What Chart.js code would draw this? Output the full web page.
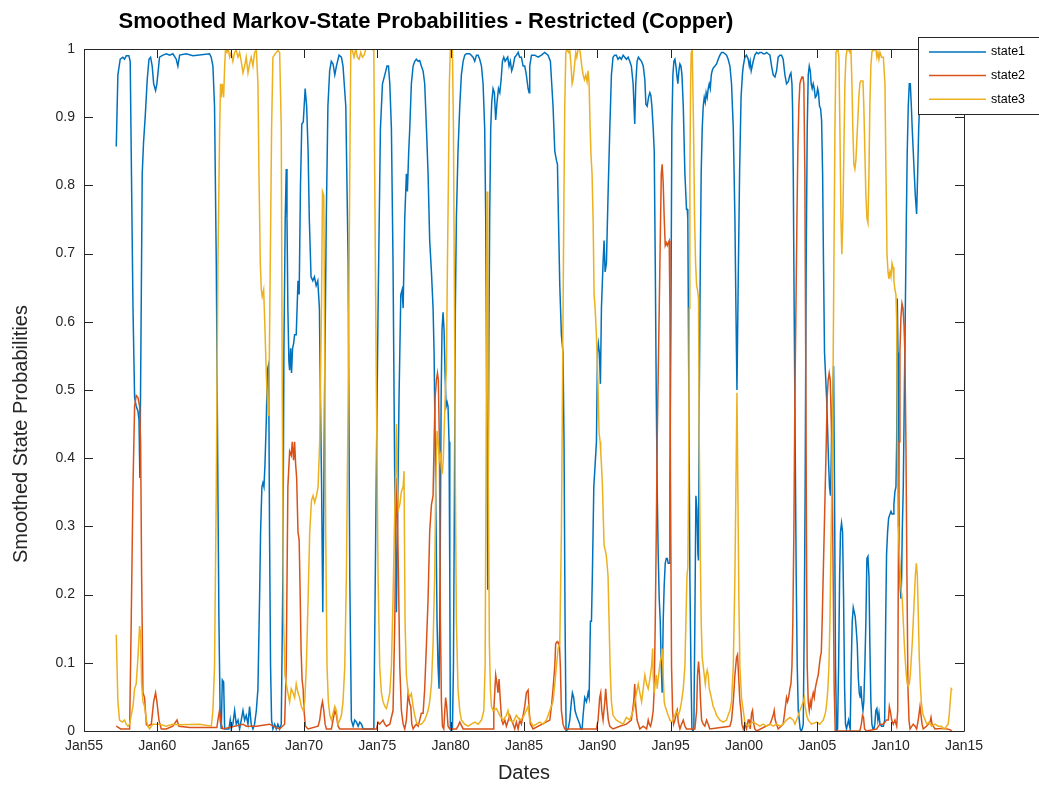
<!DOCTYPE html>
<html>
<head>
<meta charset="utf-8">
<script src="https://cdn.jsdelivr.net/npm/chart.js@4.4.1/dist/chart.umd.min.js"></script>
<style>
  html, body { margin: 0; padding: 0; background: #ffffff; }
</style>
</head>
<body>
<canvas id="chart-markov-copper" width="1039" height="787"></canvas>
<script>
// axis ticks
var dateTicks = [1955, 1960, 1965, 1970, 1975, 1980, 1985, 1990, 1995, 2000, 2005, 2010, 2015];
var dateTickLabels = ["Jan55", "Jan60", "Jan65", "Jan70", "Jan75", "Jan80", "Jan85", "Jan90", "Jan95", "Jan00", "Jan05", "Jan10", "Jan15"];
var probTicks = [0, 0.1, 0.2, 0.3, 0.4, 0.5, 0.6, 0.7, 0.8, 0.9, 1];
var probTickLabels = ["0", "0.1", "0.2", "0.3", "0.4", "0.5", "0.6", "0.7", "0.8", "0.9", "1"];
var seriesNames = ["state1", "state2", "state3"];

// state1 (years as decimals)
var state1Years = [
  1957.2, 1957.31, 1957.47, 1957.65, 1957.76, 1957.88, 1958.06, 1958.15, 1958.34, 1958.45, 1958.56, 1958.68, 1958.75, 1958.81, 1958.9, 1958.97,
  1959.06, 1959.18, 1959.31, 1959.43, 1959.54, 1959.65, 1959.75, 1959.88, 1959.97, 1960.15, 1960.38, 1960.61, 1960.84, 1961.06, 1961.29, 1961.4,
  1961.52, 1961.97, 1962.43, 1963.56, 1963.67, 1963.79, 1963.9, 1964.02, 1964.13, 1964.2, 1964.29, 1964.36, 1964.43, 1964.52, 1964.59, 1964.88,
  1964.97, 1965.04, 1965.15, 1965.27, 1965.38, 1965.5, 1965.61, 1965.84, 1965.95, 1966.06, 1966.18, 1966.29, 1966.4, 1966.52, 1966.63, 1966.75,
  1966.86, 1966.97, 1967.04, 1967.13, 1967.2, 1967.27, 1967.34, 1967.43, 1967.5, 1967.56, 1967.61, 1967.65, 1967.72, 1967.79, 1967.88, 1968.0,
  1968.11, 1968.22, 1968.34, 1968.45, 1968.56, 1968.63, 1968.72, 1968.79, 1968.84, 1968.9, 1968.97, 1969.02, 1969.09, 1969.15, 1969.22, 1969.29,
  1969.36, 1969.47, 1969.59, 1969.67, 1969.76, 1969.85, 1969.95, 1970.08, 1970.18, 1970.28, 1970.36, 1970.48, 1970.6, 1970.71, 1970.83, 1970.94,
  1971.05, 1971.12, 1971.2, 1971.28, 1971.33, 1971.4, 1971.52, 1971.63, 1971.75, 1971.86, 1971.98, 1972.1, 1972.21, 1972.39, 1972.55, 1972.66,
  1972.85, 1973.01, 1973.12, 1973.23, 1973.35, 1973.46, 1973.58, 1973.69, 1973.8, 1973.92, 1974.03, 1974.76, 1974.89, 1975.05, 1975.21, 1975.35,
  1975.51, 1975.66, 1975.76, 1975.85, 1975.96, 1976.07, 1976.19, 1976.3, 1976.37, 1976.48, 1976.6, 1976.69, 1976.76, 1976.87, 1976.98, 1977.05,
  1977.14, 1977.21, 1977.32, 1977.44, 1977.55, 1977.66, 1977.78, 1977.89, 1978.0, 1978.12, 1978.23, 1978.35, 1978.46, 1978.57, 1978.69, 1978.8,
  1978.87, 1978.94, 1979.01, 1979.07, 1979.14, 1979.21, 1979.28, 1979.35, 1979.41, 1979.48, 1979.55, 1979.62, 1979.69, 1979.76, 1979.82, 1979.89,
  1979.94, 1979.98, 1980.05, 1980.12, 1980.19, 1980.26, 1980.32, 1980.39, 1980.5, 1980.62, 1980.73, 1980.85, 1980.96, 1981.07, 1981.3, 1981.53,
  1981.64, 1981.76, 1981.87, 1981.98, 1982.1, 1982.21, 1982.32, 1982.39, 1982.46, 1982.53, 1982.6, 1982.66, 1982.73, 1982.8, 1982.89, 1982.98,
  1983.07, 1983.16, 1983.26, 1983.35, 1983.44, 1983.53, 1983.62, 1983.71, 1983.8, 1983.89, 1983.98, 1984.07, 1984.16, 1984.26, 1984.37, 1984.49,
  1984.6, 1984.71, 1984.82, 1984.94, 1985.05, 1985.16, 1985.28, 1985.35, 1985.39, 1985.51, 1985.73, 1985.96, 1986.19, 1986.41, 1986.64, 1986.8,
  1986.89, 1986.98, 1987.1, 1987.21, 1987.28, 1987.35, 1987.44, 1987.55, 1987.66, 1987.73, 1987.8, 1987.87, 1988.01, 1988.12, 1988.23, 1988.3,
  1988.39, 1988.48, 1988.57, 1988.69, 1988.8, 1988.87, 1988.96, 1989.03, 1989.14, 1989.26, 1989.37, 1989.44, 1989.53, 1989.6, 1989.66, 1989.76,
  1989.85, 1989.94, 1990.01, 1990.07, 1990.14, 1990.21, 1990.28, 1990.39, 1990.46, 1990.53, 1990.62, 1990.73, 1990.85, 1990.96, 1991.07, 1991.18,
  1991.3, 1991.41, 1991.53, 1991.64, 1991.76, 1991.87, 1991.98, 1992.1, 1992.21, 1992.32, 1992.44, 1992.55, 1992.62, 1992.71, 1992.8, 1992.9,
  1993.01, 1993.13, 1993.24, 1993.31, 1993.4, 1993.49, 1993.58, 1993.65, 1993.72, 1993.81, 1993.88, 1993.95, 1994.02, 1994.08, 1994.15, 1994.22,
  1994.29, 1994.36, 1994.42, 1994.49, 1994.56, 1994.63, 1994.7, 1994.77, 1994.83, 1994.9, 1994.95, 1995.02, 1995.08, 1995.15, 1995.22, 1995.29,
  1995.36, 1995.42, 1995.49, 1995.56, 1995.63, 1995.7, 1995.77, 1995.86, 1995.97, 1996.08, 1996.13, 1996.17, 1996.24, 1996.31, 1996.38, 1996.45,
  1996.52, 1996.58, 1996.65, 1996.72, 1996.79, 1996.86, 1996.9, 1996.95, 1997.02, 1997.08, 1997.15, 1997.22, 1997.29, 1997.36, 1997.42, 1997.49,
  1997.56, 1997.63, 1997.7, 1997.77, 1997.83, 1997.9, 1998.02, 1998.13, 1998.24, 1998.36, 1998.47, 1998.58, 1998.7, 1998.81, 1998.92, 1999.04,
  1999.15, 1999.27, 1999.38, 1999.45, 1999.52, 1999.6, 1999.7, 1999.8, 1999.9, 1999.95, 2000.06, 2000.17, 2000.29, 2000.36, 2000.42, 2000.49,
  2000.56, 2000.63, 2000.74, 2000.86, 2000.97, 2001.08, 2001.2, 2001.31, 2001.43, 2001.54, 2001.65, 2001.77, 2001.88, 2001.99, 2002.11, 2002.22,
  2002.33, 2002.45, 2002.56, 2002.67, 2002.79, 2002.9, 2003.02, 2003.13, 2003.2, 2003.27, 2003.31, 2003.36, 2003.42, 2003.49, 2003.56, 2003.63,
  2003.7, 2003.77, 2003.83, 2003.9, 2003.97, 2004.04, 2004.11, 2004.17, 2004.24, 2004.31, 2004.38, 2004.45, 2004.52, 2004.58, 2004.65, 2004.72,
  2004.79, 2004.86, 2004.95, 2005.02, 2005.08, 2005.15, 2005.22, 2005.29, 2005.36, 2005.42, 2005.49, 2005.56, 2005.63, 2005.7, 2005.77, 2005.83,
  2005.9, 2005.97, 2006.04, 2006.11, 2006.17, 2006.24, 2006.31, 2006.38, 2006.45, 2006.52, 2006.58, 2006.65, 2006.72, 2006.79, 2006.86, 2006.92,
  2006.99, 2007.06, 2007.13, 2007.17, 2007.24, 2007.31, 2007.38, 2007.45, 2007.52, 2007.58, 2007.65, 2007.72, 2007.79, 2007.86, 2007.93, 2007.97,
  2008.04, 2008.11, 2008.17, 2008.24, 2008.31, 2008.38, 2008.45, 2008.52, 2008.58, 2008.65, 2008.72, 2008.79, 2008.86, 2008.92, 2008.99, 2009.06,
  2009.13, 2009.2, 2009.27, 2009.38, 2009.5, 2009.59, 2009.66, 2009.72, 2009.79, 2009.86, 2009.95, 2010.02, 2010.09, 2010.16, 2010.22, 2010.29,
  2010.36, 2010.41, 2010.45, 2010.5, 2010.54, 2010.59, 2010.66, 2010.7, 2010.75, 2010.79, 2010.86, 2010.93, 2011.0, 2011.07, 2011.13, 2011.2,
  2011.27, 2011.34, 2011.41, 2011.47, 2011.54, 2011.61, 2011.68, 2011.77, 2011.84, 2011.91, 2011.97, 2012.04, 2012.3, 2012.7, 2013.2, 2013.7,
  2014.17
];
var state1Probs = [
  0.857, 0.962, 0.985, 0.988, 0.985, 0.99, 0.99, 0.982, 0.62, 0.489, 0.476, 0.469, 0.456, 0.371, 0.62, 0.817,
  0.863, 0.903, 0.955, 0.985, 0.988, 0.975, 0.949, 0.939, 0.949, 0.988, 0.991, 0.993, 0.991, 0.993, 0.985, 0.975,
  0.991, 0.993, 0.99, 0.993, 0.988, 0.975, 0.916, 0.686, 0.358, 0.161, 0.016, 0.003, 0.075, 0.072, 0.003, 0.003,
  0.016, 0.003, 0.01, 0.03, 0.01, 0.016, 0.003, 0.03, 0.016, 0.023, 0.01, 0.036, 0.01, 0.003, 0.01, 0.03,
  0.062, 0.194, 0.292, 0.358, 0.364, 0.358, 0.391, 0.456, 0.529, 0.535, 0.456, 0.292, 0.095, 0.016, 0.003, 0.01,
  0.003, 0.01, 0.003, 0.01, 0.227, 0.555, 0.752, 0.824, 0.752, 0.62, 0.542, 0.529, 0.561, 0.525, 0.561, 0.568,
  0.581, 0.581, 0.66, 0.64, 0.8, 0.89, 0.893, 0.942, 0.916, 0.85, 0.752, 0.666, 0.66, 0.666, 0.653, 0.66,
  0.62, 0.489, 0.358, 0.174, 0.292, 0.489, 0.752, 0.916, 0.968, 0.982, 0.978, 0.962, 0.975, 0.991, 0.988, 0.975,
  0.916, 0.686, 0.227, 0.016, 0.007, 0.016, 0.013, 0.007, 0.013, 0.01, 0.003, 0.003, 0.292, 0.62, 0.883, 0.949,
  0.962, 0.975, 0.975, 0.949, 0.883, 0.686, 0.358, 0.174, 0.292, 0.489, 0.64, 0.647, 0.62, 0.752, 0.817, 0.791,
  0.85, 0.883, 0.949, 0.975, 0.982, 0.985, 0.982, 0.983, 0.975, 0.968, 0.949, 0.883, 0.817, 0.719, 0.673, 0.62,
  0.555, 0.424, 0.292, 0.161, 0.095, 0.062, 0.227, 0.489, 0.588, 0.614, 0.588, 0.522, 0.476, 0.482, 0.476, 0.424,
  0.227, 0.003, 0, 0.003, 0.095, 0.358, 0.62, 0.752, 0.85, 0.916, 0.962, 0.982, 0.991, 0.993, 0.993, 0.988,
  0.982, 0.991, 0.991, 0.985, 0.975, 0.949, 0.883, 0.752, 0.489, 0.207, 0.555, 0.752, 0.883, 0.922, 0.942, 0.936,
  0.896, 0.922, 0.942, 0.936, 0.955, 0.982, 0.988, 0.982, 0.985, 0.988, 0.975, 0.982, 0.968, 0.975, 0.988, 0.991,
  0.995, 0.988, 0.988, 0.975, 0.975, 0.962, 0.942, 0.936, 0.975, 0.991, 0.991, 0.988, 0.991, 0.995, 0.991, 0.982,
  0.949, 0.916, 0.85, 0.837, 0.831, 0.752, 0.653, 0.581, 0.555, 0.424, 0.161, 0, 0.003, 0.016, 0.043, 0.056,
  0.049, 0.03, 0.023, 0.016, 0.01, 0.003, 0.003, 0.023, 0.049, 0.043, 0.056, 0.049, 0.161, 0.161, 0.227, 0.358,
  0.391, 0.424, 0.555, 0.568, 0.555, 0.509, 0.62, 0.686, 0.719, 0.673, 0.686, 0.785, 0.883, 0.962, 0.988, 0.991,
  0.991, 0.985, 0.988, 0.985, 0.991, 0.988, 0.985, 0.988, 0.982, 0.975, 0.949, 0.89, 0.949, 0.982, 0.988, 0.985,
  0.982, 0.975, 0.955, 0.919, 0.916, 0.929, 0.936, 0.932, 0.916, 0.883, 0.85, 0.686, 0.489, 0.358, 0.259, 0.194,
  0.161, 0.095, 0.056, 0.161, 0.214, 0.246, 0.253, 0.253, 0.246, 0.246, 0.358, 0.62, 0.883, 0.962, 0.982, 0.985,
  0.975, 0.962, 0.949, 0.968, 0.978, 0.975, 0.962, 0.916, 0.817, 0.765, 0.765, 0.752, 0.489, 0.227, 0.095, 0.003,
  0, 0.003, 0.161, 0.345, 0.325, 0.259, 0.25, 0.489, 0.686, 0.817, 0.883, 0.916, 0.929, 0.922, 0.936, 0.929,
  0.942, 0.949, 0.942, 0.962, 0.968, 0.972, 0.975, 0.978, 0.985, 0.991, 0.995, 0.995, 0.993, 0.991, 0.985, 0.975,
  0.949, 0.883, 0.752, 0.62, 0.5, 0.65, 0.82, 0.93, 0.965, 0.975, 0.988, 0.991, 0.985, 0.975, 0.982, 0.968,
  0.975, 0.982, 0.991, 0.995, 0.993, 0.995, 0.995, 0.993, 0.993, 0.995, 0.993, 0.991, 0.975, 0.962, 0.959, 0.968,
  0.988, 0.991, 0.991, 0.985, 0.962, 0.949, 0.952, 0.962, 0.965, 0.949, 0.916, 0.817, 0.62, 0.424, 0.227, 0.095,
  0.03, 0.016, 0.003, 0, 0.003, 0.01, 0.161, 0.358, 0.686, 0.883, 0.962, 0.975, 0.968, 0.949, 0.942, 0.949,
  0.942, 0.929, 0.932, 0.942, 0.936, 0.916, 0.913, 0.896, 0.817, 0.686, 0.555, 0.522, 0.489, 0.443, 0.391, 0.358,
  0.345, 0.424, 0.489, 0.535, 0.358, 0.095, 0, 0.003, 0.095, 0.227, 0.292, 0.305, 0.292, 0.194, 0.062, 0.01,
  0.003, 0.01, 0.016, 0.01, 0.003, 0.095, 0.161, 0.181, 0.174, 0.168, 0.15, 0.128, 0.08, 0.055, 0.049, 0.066,
  0.043, 0.03, 0.043, 0.095, 0.161, 0.253, 0.256, 0.227, 0.128, 0.043, 0.01, 0.003, 0.003, 0.01, 0.03, 0.033,
  0.016, 0.026, 0.01, 0.007, 0.007, 0.016, 0.161, 0.259, 0.292, 0.312, 0.318, 0.322, 0.318, 0.318, 0.332, 0.351,
  0.358, 0.424, 0.634, 0.555, 0.358, 0.259, 0.207, 0.194, 0.227, 0.292, 0.358, 0.489, 0.62, 0.752, 0.85, 0.916,
  0.949, 0.949, 0.916, 0.883, 0.85, 0.817, 0.785, 0.758, 0.817, 0.883, 0.916, 0.94, 0.97, 0.98, 0.985, 0.98,
  0.93
];

// state2
var state2Years = [
  1957.2, 1957.5, 1958.11, 1958.22, 1958.34, 1958.45, 1958.56, 1958.68, 1958.79, 1958.86, 1958.93, 1959.02, 1959.13, 1959.25, 1959.36, 1959.59,
  1959.75, 1959.88, 1959.97, 1960.11, 1960.27, 1960.61, 1961.06, 1961.34, 1961.47, 1962.2, 1964.06, 1964.13, 1964.24, 1964.36, 1964.47, 1965.84,
  1966.06, 1966.75, 1967.65, 1968.11, 1968.34, 1968.68, 1968.79, 1968.9, 1969.02, 1969.13, 1969.2, 1969.29, 1969.36, 1969.43, 1969.5, 1969.59,
  1969.67, 1969.74, 1969.8, 1969.87, 1969.94, 1970.0, 1970.1, 1970.28, 1970.96, 1971.07, 1971.19, 1971.26, 1971.35, 1971.44, 1971.53, 1971.87,
  1971.98, 1972.1, 1972.21, 1972.32, 1972.44, 1974.94, 1975.05, 1975.16, 1975.39, 1975.51, 1975.62, 1975.85, 1976.07, 1976.19, 1976.3, 1976.37,
  1976.44, 1976.53, 1976.64, 1976.76, 1976.87, 1976.98, 1977.1, 1977.21, 1977.28, 1977.35, 1977.44, 1977.55, 1977.66, 1977.78, 1977.89, 1978.0,
  1978.12, 1978.23, 1978.35, 1978.46, 1978.57, 1978.69, 1978.8, 1978.87, 1978.94, 1979.03, 1979.1, 1979.16, 1979.23, 1979.3, 1979.37, 1979.44,
  1979.53, 1979.6, 1979.66, 1979.73, 1979.82, 1979.94, 1980.39, 1980.5, 1980.62, 1980.85, 1982.89, 1982.94, 1983.07, 1983.16, 1983.23, 1983.3,
  1983.39, 1983.48, 1983.57, 1983.69, 1983.8, 1984.03, 1984.14, 1984.26, 1984.37, 1984.48, 1984.6, 1984.71, 1984.82, 1984.94, 1985.05, 1985.16,
  1985.28, 1985.35, 1985.44, 1985.62, 1986.76, 1986.87, 1986.98, 1987.1, 1987.16, 1987.26, 1987.35, 1987.41, 1987.48, 1987.55, 1987.66, 1987.78,
  1989.94, 1990.05, 1990.16, 1990.23, 1990.3, 1990.39, 1990.51, 1990.57, 1990.66, 1990.75, 1990.85, 1991.07, 1991.53, 1991.98, 1992.32, 1992.48,
  1992.55, 1992.62, 1992.71, 1992.8, 1992.9, 1993.13, 1993.36, 1993.47, 1993.54, 1993.63, 1993.72, 1993.81, 1993.88, 1993.95, 1994.02, 1994.08,
  1994.15, 1994.22, 1994.29, 1994.36, 1994.42, 1994.49, 1994.56, 1994.63, 1994.7, 1994.77, 1994.83, 1994.9, 1994.95, 1994.99, 1995.06, 1995.13,
  1995.2, 1995.29, 1995.36, 1995.45, 1995.52, 1995.63, 1995.74, 1995.86, 1995.97, 1996.08, 1996.65, 1996.77, 1996.83, 1996.9, 1996.97, 1997.04,
  1997.11, 1997.22, 1997.33, 1997.45, 1997.56, 1997.67, 1999.04, 1999.15, 1999.27, 1999.38, 1999.49, 1999.56, 1999.63, 1999.72, 1999.79, 1999.86,
  1999.95, 2000.06, 2000.17, 2000.29, 2000.36, 2000.42, 2000.52, 2000.58, 2000.67, 2000.74, 2000.86, 2001.77, 2001.88, 2001.99, 2002.06, 2002.13,
  2002.22, 2002.33, 2002.67, 2002.79, 2002.9, 2002.97, 2003.04, 2003.13, 2003.2, 2003.27, 2003.33, 2003.4, 2003.47, 2003.54, 2003.61, 2003.67,
  2003.74, 2003.81, 2003.88, 2003.95, 2004.02, 2004.08, 2004.15, 2004.22, 2004.27, 2004.31, 2004.38, 2004.45, 2004.52, 2004.58, 2004.65, 2004.72,
  2004.79, 2004.86, 2004.92, 2004.99, 2005.06, 2005.13, 2005.2, 2005.27, 2005.33, 2005.4, 2005.47, 2005.54, 2005.61, 2005.67, 2005.74, 2005.81,
  2005.88, 2005.95, 2006.02, 2006.08, 2006.15, 2006.22, 2007.9, 2008.0, 2008.08, 2008.15, 2008.22, 2008.36, 2009.04, 2009.27, 2009.5, 2009.61,
  2009.72, 2009.84, 2009.91, 2009.97, 2010.07, 2010.18, 2010.29, 2010.41, 2010.48, 2010.52, 2010.57, 2010.63, 2010.7, 2010.77, 2010.84, 2010.91,
  2010.97, 2011.04, 2011.11, 2011.18, 2011.25, 2011.32, 2011.54, 2011.66, 2011.77, 2011.88, 2012.0, 2012.07, 2012.14, 2012.22, 2012.45, 2012.68,
  2012.75, 2012.82, 2013.02, 2013.59, 2014.04, 2014.17
];
var state2Probs = [
  0.007, 0.003, 0.003, 0.161, 0.358, 0.476, 0.492, 0.489, 0.476, 0.424, 0.227, 0.056, 0.049, 0.01, 0.007, 0.01,
  0.043, 0.056, 0.043, 0.016, 0.003, 0.003, 0.007, 0.016, 0.007, 0.005, 0.005, 0.016, 0.03, 0.01, 0.003, 0.01,
  0.007, 0.007, 0.01, 0.005, 0.003, 0.01, 0.095, 0.358, 0.41, 0.404, 0.424, 0.397, 0.424, 0.391, 0.371, 0.292,
  0.28, 0.2, 0.12, 0.075, 0.062, 0.03, 0.007, 0.003, 0.007, 0.016, 0.036, 0.043, 0.03, 0.01, 0.003, 0.003,
  0.016, 0.03, 0.023, 0.007, 0.003, 0.003, 0.013, 0.01, 0.016, 0.01, 0.007, 0.01, 0.03, 0.161, 0.371, 0.318,
  0.227, 0.095, 0.03, 0.01, 0.003, 0.016, 0.056, 0.04, 0.036, 0.01, 0.003, 0.007, 0.01, 0.007, 0.016, 0.026,
  0.026, 0.062, 0.128, 0.194, 0.292, 0.332, 0.345, 0.424, 0.489, 0.515, 0.525, 0.515, 0.424, 0.161, 0.043, 0.007,
  0.003, 0.03, 0.049, 0.036, 0.007, 0.003, 0.003, 0.007, 0.013, 0.003, 0.003, 0.03, 0.082, 0.069, 0.056, 0.076,
  0.043, 0.016, 0.01, 0.016, 0.007, 0.023, 0.016, 0.01, 0.003, 0.013, 0.003, 0.016, 0.01, 0.023, 0.036, 0.056,
  0.06, 0.03, 0.01, 0.003, 0.016, 0.036, 0.062, 0.095, 0.128, 0.131, 0.128, 0.131, 0.095, 0.03, 0.01, 0.003,
  0.003, 0.016, 0.049, 0.056, 0.03, 0.016, 0.043, 0.062, 0.036, 0.016, 0.007, 0.003, 0.007, 0.01, 0.016, 0.043,
  0.069, 0.036, 0.016, 0.01, 0.003, 0.007, 0.003, 0.016, 0.01, 0.007, 0.016, 0.03, 0.062, 0.161, 0.292, 0.424,
  0.522, 0.62, 0.719, 0.817, 0.831, 0.804, 0.752, 0.712, 0.716, 0.712, 0.716, 0.719, 0.62, 0.358, 0.095, 0.03,
  0.01, 0.016, 0.023, 0.03, 0.013, 0.003, 0.01, 0.016, 0.007, 0.003, 0.003, 0.03, 0.082, 0.102, 0.082, 0.043,
  0.016, 0.01, 0.007, 0.016, 0.01, 0.003, 0.007, 0.016, 0.043, 0.082, 0.108, 0.112, 0.082, 0.043, 0.03, 0.01,
  0.003, 0.01, 0.003, 0.016, 0.016, 0.003, 0.026, 0.03, 0.01, 0.003, 0, 0.01, 0.016, 0.023, 0.03, 0.016,
  0.01, 0.003, 0.01, 0.03, 0.049, 0.043, 0.049, 0.062, 0.069, 0.095, 0.161, 0.292, 0.489, 0.62, 0.752, 0.85,
  0.916, 0.949, 0.955, 0.959, 0.959, 0.949, 0.817, 0.489, 0.227, 0.095, 0.043, 0.03, 0.043, 0.036, 0.049, 0.056,
  0.049, 0.062, 0.069, 0.076, 0.082, 0.095, 0.108, 0.115, 0.161, 0.227, 0.292, 0.358, 0.424, 0.489, 0.515, 0.525,
  0.515, 0.456, 0.358, 0.227, 0.062, 0, 0, 0.01, 0.023, 0.02, 0.003, 0, 0.003, 0.01, 0.01, 0.013,
  0.016, 0.016, 0.036, 0.03, 0.016, 0.01, 0.016, 0.007, 0.03, 0.227, 0.424, 0.555, 0.607, 0.627, 0.62, 0.594,
  0.555, 0.424, 0.227, 0.062, 0.016, 0.003, 0.01, 0.007, 0.003, 0.016, 0.036, 0.023, 0.01, 0.003, 0.007, 0.013,
  0.02, 0.01, 0.003, 0.004, 0.002, 0
];

// state3
var state3Years = [
  1957.2, 1957.31, 1957.42, 1957.61, 1957.77, 1957.88, 1957.99, 1958.11, 1958.22, 1958.34, 1958.45, 1958.56, 1958.68, 1958.79, 1958.86, 1958.93,
  1959.02, 1959.13, 1959.25, 1959.36, 1959.47, 1959.7, 1960.15, 1960.61, 1961.06, 1961.52, 1962.88, 1963.68, 1963.79, 1963.9, 1964.02, 1964.13,
  1964.25, 1964.31, 1964.36, 1964.43, 1964.52, 1964.59, 1964.65, 1964.75, 1964.84, 1964.93, 1965.04, 1965.15, 1965.27, 1965.38, 1965.5, 1965.61,
  1965.72, 1965.84, 1965.95, 1966.06, 1966.18, 1966.29, 1966.4, 1966.52, 1966.63, 1966.75, 1966.86, 1966.93, 1967.02, 1967.09, 1967.15, 1967.25,
  1967.34, 1967.43, 1967.5, 1967.56, 1967.61, 1967.7, 1967.79, 1967.88, 1968.11, 1968.22, 1968.34, 1968.45, 1968.52, 1968.61, 1968.7, 1968.79,
  1968.9, 1969.02, 1969.13, 1969.25, 1969.36, 1969.47, 1969.59, 1969.7, 1969.82, 1969.94, 1970.05, 1970.16, 1970.28, 1970.39, 1970.51, 1970.62,
  1970.73, 1970.85, 1970.96, 1971.07, 1971.19, 1971.26, 1971.35, 1971.41, 1971.48, 1971.57, 1971.66, 1971.76, 1971.87, 1971.98, 1972.1, 1972.21,
  1972.32, 1972.44, 1972.55, 1972.66, 1972.78, 1972.89, 1973.01, 1973.12, 1973.19, 1973.3, 1973.41, 1973.53, 1973.64, 1973.76, 1973.87, 1973.98,
  1974.1, 1974.21, 1974.6, 1974.76, 1974.82, 1974.94, 1975.05, 1975.16, 1975.28, 1975.39, 1975.51, 1975.62, 1975.73, 1975.85, 1975.96, 1976.07,
  1976.19, 1976.26, 1976.3, 1976.37, 1976.44, 1976.53, 1976.64, 1976.76, 1976.82, 1976.89, 1976.98, 1977.1, 1977.21, 1977.32, 1977.44, 1977.55,
  1977.66, 1977.78, 1978.0, 1978.12, 1978.23, 1978.35, 1978.46, 1978.57, 1978.69, 1978.8, 1978.91, 1978.98, 1979.07, 1979.16, 1979.23, 1979.3,
  1979.37, 1979.44, 1979.5, 1979.57, 1979.64, 1979.71, 1979.78, 1979.85, 1979.91, 1979.98, 1980.05, 1980.12, 1980.19, 1980.26, 1980.32, 1980.39,
  1980.5, 1980.62, 1980.73, 1980.96, 1981.19, 1981.41, 1981.64, 1981.87, 1982.1, 1982.26, 1982.35, 1982.42, 1982.48, 1982.53, 1982.57, 1982.64,
  1982.71, 1982.78, 1982.89, 1983.12, 1983.35, 1983.57, 1983.8, 1983.91, 1984.03, 1984.26, 1984.48, 1984.71, 1984.94, 1985.16, 1985.28, 1985.39,
  1985.62, 1985.85, 1986.07, 1986.3, 1986.53, 1986.76, 1986.98, 1987.1, 1987.21, 1987.33, 1987.44, 1987.55, 1987.62, 1987.71, 1987.78, 1987.85,
  1987.94, 1988.03, 1988.12, 1988.21, 1988.28, 1988.35, 1988.44, 1988.53, 1988.6, 1988.69, 1988.8, 1988.87, 1988.94, 1989.03, 1989.12, 1989.21,
  1989.3, 1989.37, 1989.44, 1989.51, 1989.57, 1989.64, 1989.71, 1989.78, 1989.85, 1989.92, 1989.98, 1990.05, 1990.12, 1990.19, 1990.23, 1990.28,
  1990.35, 1990.39, 1990.46, 1990.53, 1990.6, 1990.66, 1990.73, 1990.8, 1990.87, 1990.96, 1991.07, 1991.3, 1991.53, 1991.76, 1991.98, 1992.21,
  1992.45, 1992.56, 1992.67, 1992.79, 1992.9, 1993.02, 1993.13, 1993.24, 1993.36, 1993.47, 1993.58, 1993.7, 1993.77, 1993.81, 1993.88, 1993.95,
  1994.02, 1994.08, 1994.15, 1994.22, 1994.29, 1994.36, 1994.42, 1994.49, 1994.56, 1994.63, 1994.72, 1994.83, 1994.95, 1995.06, 1995.17, 1995.29,
  1995.4, 1995.52, 1995.63, 1995.74, 1995.86, 1995.97, 1996.04, 1996.11, 1996.17, 1996.22, 1996.27, 1996.31, 1996.36, 1996.4, 1996.47, 1996.52,
  1996.56, 1996.63, 1996.7, 1996.77, 1996.83, 1996.9, 1996.95, 1997.02, 1997.08, 1997.15, 1997.22, 1997.29, 1997.36, 1997.42, 1997.49, 1997.56,
  1997.63, 1997.7, 1997.77, 1997.83, 1997.9, 1998.02, 1998.13, 1998.36, 1998.58, 1998.81, 1998.92, 1999.04, 1999.15, 1999.27, 1999.38, 1999.45,
  1999.52, 1999.58, 1999.65, 1999.72, 1999.83, 1999.95, 2000.06, 2000.17, 2000.29, 2000.4, 2000.63, 2000.86, 2001.08, 2001.31, 2001.54, 2001.77,
  2001.99, 2002.22, 2002.45, 2002.67, 2002.9, 2003.13, 2003.36, 2003.47, 2003.58, 2003.7, 2003.81, 2003.92, 2004.04, 2004.11, 2004.17, 2004.27,
  2004.38, 2004.49, 2004.61, 2004.95, 2005.17, 2005.29, 2005.4, 2005.51, 2005.58, 2005.65, 2005.72, 2005.79, 2005.86, 2005.92, 2005.99, 2006.06,
  2006.13, 2006.2, 2006.27, 2006.33, 2006.4, 2006.47, 2006.54, 2006.61, 2006.67, 2006.74, 2006.81, 2006.88, 2006.95, 2007.02, 2007.08, 2007.15,
  2007.22, 2007.29, 2007.36, 2007.42, 2007.49, 2007.56, 2007.63, 2007.7, 2007.77, 2007.83, 2007.9, 2007.97, 2008.04, 2008.11, 2008.17, 2008.24,
  2008.31, 2008.38, 2008.45, 2008.52, 2008.58, 2008.65, 2008.72, 2008.79, 2008.86, 2008.92, 2008.99, 2009.06, 2009.13, 2009.2, 2009.27, 2009.38,
  2009.5, 2009.61, 2009.68, 2009.75, 2009.82, 2009.88, 2009.95, 2010.02, 2010.09, 2010.16, 2010.22, 2010.29, 2010.36, 2010.41, 2010.45, 2010.5,
  2010.54, 2010.59, 2010.66, 2010.72, 2010.79, 2010.86, 2010.93, 2011.0, 2011.07, 2011.13, 2011.2, 2011.27, 2011.34, 2011.41, 2011.47, 2011.54,
  2011.61, 2011.68, 2011.75, 2011.82, 2011.88, 2011.95, 2012.02, 2012.09, 2012.16, 2012.22, 2012.47, 2012.61, 2012.79, 2013.02, 2013.24, 2013.47,
  2013.58, 2013.7, 2013.81, 2013.92, 2013.99, 2014.06, 2014.13, 2014.2
];
var state3Probs = [
  0.141, 0.043, 0.016, 0.013, 0.016, 0.01, 0.007, 0.01, 0.023, 0.036, 0.062, 0.069, 0.108, 0.154, 0.141, 0.069,
  0.043, 0.036, 0.016, 0.007, 0.003, 0.01, 0.01, 0.007, 0.01, 0.009, 0.01, 0.007, 0.03, 0.095, 0.358, 0.686,
  0.883, 0.949, 0.929, 0.949, 0.929, 0.975, 1.0, 0.995, 1.0, 0.988, 0.995, 0.982, 0.995, 0.998, 0.988, 0.995,
  0.982, 0.965, 0.975, 0.988, 0.965, 0.978, 0.988, 0.975, 0.995, 0.998, 0.949, 0.817, 0.686, 0.647, 0.637, 0.647,
  0.588, 0.522, 0.489, 0.463, 0.489, 0.686, 0.883, 0.988, 0.995, 0.998, 0.995, 0.883, 0.489, 0.161, 0.082, 0.069,
  0.056, 0.043, 0.062, 0.056, 0.049, 0.069, 0.056, 0.049, 0.036, 0.03, 0.043, 0.095, 0.194, 0.292, 0.338, 0.345,
  0.335, 0.345, 0.358, 0.424, 0.62, 0.791, 0.785, 0.555, 0.292, 0.095, 0.043, 0.023, 0.016, 0.026, 0.036, 0.03,
  0.01, 0.016, 0.023, 0.043, 0.095, 0.227, 0.489, 0.817, 1.0, 0.998, 0.988, 1.0, 0.988, 0.985, 0.995, 0.988,
  0.991, 1.0, 1.0, 0.998, 0.817, 0.489, 0.227, 0.095, 0.056, 0.043, 0.036, 0.033, 0.043, 0.056, 0.095, 0.194,
  0.325, 0.391, 0.45, 0.358, 0.325, 0.332, 0.351, 0.358, 0.381, 0.161, 0.082, 0.056, 0.05, 0.055, 0.036, 0.023,
  0.013, 0.01, 0.01, 0.013, 0.016, 0.023, 0.03, 0.043, 0.069, 0.128, 0.227, 0.358, 0.44, 0.42, 0.397, 0.404,
  0.384, 0.38, 0.4, 0.45, 0.5, 0.53, 0.686, 0.817, 0.949, 1.0, 1.0, 1.0, 0.883, 0.62, 0.358, 0.161,
  0.062, 0.03, 0.016, 0.01, 0.007, 0.01, 0.013, 0.01, 0.016, 0.03, 0.095, 0.424, 0.791, 0.686, 0.358, 0.128,
  0.062, 0.036, 0.03, 0.033, 0.023, 0.016, 0.023, 0.03, 0.016, 0.013, 0.023, 0.016, 0.02, 0.03, 0.036, 0.016,
  0.007, 0.01, 0.013, 0.01, 0.016, 0.03, 0.043, 0.069, 0.095, 0.121, 0.128, 0.292, 0.489, 0.752, 0.916, 0.995,
  1.0, 0.995, 0.998, 0.975, 0.949, 0.955, 0.975, 0.995, 0.988, 1.0, 1.0, 0.988, 0.975, 0.962, 0.955, 0.962,
  0.952, 0.968, 0.949, 0.883, 0.844, 0.817, 0.752, 0.64, 0.62, 0.588, 0.555, 0.502, 0.437, 0.424, 0.41, 0.391,
  0.358, 0.325, 0.272, 0.266, 0.259, 0.246, 0.227, 0.161, 0.095, 0.043, 0.023, 0.016, 0.013, 0.01, 0.02, 0.016,
  0.03, 0.043, 0.056, 0.069, 0.056, 0.043, 0.062, 0.082, 0.069, 0.062, 0.076, 0.095, 0.121, 0.082, 0.056, 0.069,
  0.082, 0.062, 0.076, 0.089, 0.102, 0.108, 0.121, 0.082, 0.043, 0.036, 0.03, 0.023, 0.016, 0.013, 0.016, 0.023,
  0.03, 0.023, 0.03, 0.043, 0.062, 0.095, 0.161, 0.227, 0.24, 0.358, 0.62, 0.817, 0.949, 0.995, 0.998, 0.998,
  0.883, 0.752, 0.686, 0.653, 0.647, 0.634, 0.424, 0.259, 0.161, 0.108, 0.095, 0.082, 0.069, 0.082, 0.089, 0.082,
  0.062, 0.056, 0.049, 0.043, 0.036, 0.03, 0.023, 0.016, 0.013, 0.016, 0.023, 0.03, 0.043, 0.095, 0.227, 0.358,
  0.496, 0.358, 0.194, 0.095, 0.049, 0.03, 0.013, 0.01, 0.007, 0.01, 0.013, 0.01, 0.007, 0.01, 0.007, 0.01,
  0.007, 0.01, 0.007, 0.01, 0.016, 0.02, 0.016, 0.01, 0.016, 0.023, 0.03, 0.036, 0.043, 0.049, 0.036, 0.023,
  0.016, 0.013, 0.01, 0.013, 0.01, 0.013, 0.016, 0.023, 0.03, 0.043, 0.062, 0.095, 0.161, 0.259, 0.358, 0.489,
  0.686, 0.883, 0.995, 0.998, 1.0, 0.988, 0.883, 0.752, 0.699, 0.752, 0.85, 0.949, 0.988, 0.998, 1.0, 0.998,
  0.995, 1.0, 0.949, 0.883, 0.831, 0.824, 0.837, 0.87, 0.9, 0.93, 0.95, 0.953, 0.953, 0.953, 0.916, 0.85,
  0.785, 0.752, 0.745, 0.817, 0.916, 0.975, 0.995, 1.0, 0.998, 1.0, 1.0, 0.988, 0.995, 0.985, 0.995, 0.988,
  0.988, 0.949, 0.817, 0.699, 0.673, 0.663, 0.673, 0.666, 0.686, 0.68, 0.66, 0.647, 0.64, 0.6, 0.45, 0.3,
  0.292, 0.259, 0.227, 0.207, 0.194, 0.161, 0.128, 0.102, 0.082, 0.069, 0.066, 0.069, 0.082, 0.108, 0.128, 0.161,
  0.194, 0.227, 0.246, 0.227, 0.174, 0.108, 0.069, 0.043, 0.03, 0.023, 0.01, 0.013, 0.007, 0.01, 0.007, 0.007,
  0.003, 0.003, 0.007, 0.01, 0.023, 0.043, 0.062, 0.06
];

function toPoints(xs, ys) {
  return xs.map(function (x, i) {
    return { x: x, y: ys[i] };
  });
}

var axisColor = "#262626";
var fontFamily = "'Liberation Sans', Arial, Helvetica, sans-serif";

// box, inward ticks, title, y label and legend drawn the way MATLAB does it
var matlabFrame = {
  id: "matlabFrame",
  afterDraw: function (chart) {
    var c = chart.ctx;
    var a = chart.chartArea;
    var xs = chart.scales.x;
    var ys = chart.scales.y;
    var tl = 9;

    c.save();
    c.strokeStyle = axisColor;
    c.lineWidth = 1;
    c.beginPath();
    c.rect(Math.round(a.left) + 0.5, Math.round(a.top) + 0.5, Math.round(a.right - a.left), Math.round(a.bottom - a.top));
    c.stroke();

    c.beginPath();
    dateTicks.forEach(function (v) {
      var px = Math.round(xs.getPixelForValue(v)) + 0.5;
      c.moveTo(px, a.bottom);
      c.lineTo(px, a.bottom - tl);
      c.moveTo(px, a.top);
      c.lineTo(px, a.top + tl);
    });
    probTicks.forEach(function (v) {
      var py = Math.round(ys.getPixelForValue(v)) + 0.5;
      c.moveTo(a.left, py);
      c.lineTo(a.left + tl, py);
      c.moveTo(a.right, py);
      c.lineTo(a.right - tl, py);
    });
    c.stroke();

    // title
    c.fillStyle = "#000000";
    c.font = "bold 22px " + fontFamily;
    c.textAlign = "center";
    c.textBaseline = "middle";
    c.fillText("Smoothed Markov-State Probabilities - Restricted (Copper)", 426, 22);

    // y label, sits a little below the middle of the axis as in the original
    c.save();
    c.translate(21, 434);
    c.rotate(-Math.PI / 2);
    c.fillStyle = axisColor;
    c.font = "20px " + fontFamily;
    c.fillText("Smoothed State Probabilities", 0, 0);
    c.restore();

    // legend box
    var lx = 918.5, ly = 37.5, lw = 130, lh = 77;
    c.fillStyle = "#ffffff";
    c.fillRect(lx, ly, lw, lh);
    c.strokeStyle = axisColor;
    c.strokeRect(lx, ly, lw, lh);
    c.font = "12.5px " + fontFamily;
    c.textAlign = "left";
    chart.data.datasets.forEach(function (ds, i) {
      var y = 52 + i * 23.6;
      c.strokeStyle = ds.borderColor;
      c.lineWidth = 1.5;
      c.beginPath();
      c.moveTo(929, y);
      c.lineTo(986, y);
      c.stroke();
      c.fillStyle = "#000000";
      c.fillText(ds.label, 991, y);
    });
    c.restore();
  },
};

var ctx = document.getElementById("chart-markov-copper").getContext("2d");

new Chart(ctx, {
  type: "line",
  data: {
    datasets: [
      {
        label: seriesNames[0],
        data: toPoints(state1Years, state1Probs),
        borderColor: "#0072BD",
        order: 3,
      },
      {
        label: seriesNames[1],
        data: toPoints(state2Years, state2Probs),
        borderColor: "#D95319",
        order: 2,
      },
      {
        label: seriesNames[2],
        data: toPoints(state3Years, state3Probs),
        borderColor: "#EDB120",
        order: 1,
      },
    ],
  },
  options: {
    responsive: false,
    animation: false,
    layout: {
      padding: { left: 0, right: 75, top: 49, bottom: 0 },
    },
    elements: {
      line: { borderWidth: 1.5, tension: 0, fill: false },
      point: { radius: 0, hoverRadius: 0 },
    },
    plugins: {
      legend: { display: false },
      tooltip: { enabled: false },
      title: { display: false },
    },
    scales: {
      x: {
        type: "linear",
        min: 1955,
        max: 2015,
        afterFit: function (scale) {
          scale.height = 56;
        },
        afterBuildTicks: function (scale) {
          scale.ticks = dateTicks.map(function (v) {
            return { value: v };
          });
        },
        grid: { display: false, drawTicks: false },
        border: { display: false },
        ticks: {
          autoSkip: false,
          maxRotation: 0,
          padding: 7,
          color: axisColor,
          font: { size: 14, family: fontFamily },
          callback: function (value) {
            return dateTickLabels[dateTicks.indexOf(value)];
          },
        },
        title: {
          display: true,
          text: "Dates",
          color: axisColor,
          font: { size: 20, family: fontFamily },
          padding: { top: 0, bottom: 2 },
        },
      },
      y: {
        type: "linear",
        min: 0,
        max: 1,
        afterFit: function (scale) {
          scale.width = 84;
        },
        afterBuildTicks: function (scale) {
          scale.ticks = probTicks.map(function (v) {
            return { value: v };
          });
        },
        grid: { display: false, drawTicks: false },
        border: { display: false },
        ticks: {
          padding: 9,
          color: axisColor,
          font: { size: 14, family: fontFamily },
          callback: function (value) {
            return probTickLabels[probTicks.indexOf(value)];
          },
        },
        title: { display: false },
      },
    },
  },
  plugins: [matlabFrame],
});
</script>
</body>
</html>
